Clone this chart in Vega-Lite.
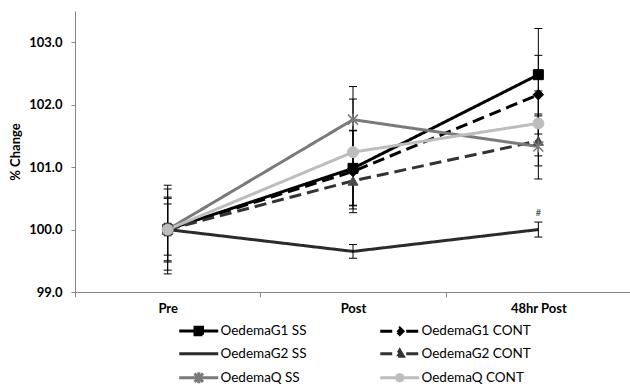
{
  "$schema": "https://vega.github.io/schema/vega-lite/v6.json",
  "autosize": "none",
  "width": 556,
  "height": 281,
  "padding": {"left": 75, "top": 11, "right": 0, "bottom": 94},
  "background": "white",
  "config": {
    "view": {"stroke": null},
    "font": "Lato",
    "axis": {"grid": false, "domainColor": "#878787", "tickColor": "#878787", "labelFont": "Lato", "labelFontWeight": "bold", "labelFontSize": 13, "labelColor": "#000000", "titleFont": "Lato", "titleFontWeight": "bold", "titleFontSize": 13, "titleColor": "#000000"}
  },
  "datasets": {
    "main": [
      {"series": "OedemaG1 SS", "time": "Pre", "y": 100.0, "lo": 99.29, "hi": 100.71},
      {"series": "OedemaG1 SS", "time": "Post", "y": 100.98, "lo": 100.38, "hi": 101.58},
      {"series": "OedemaG1 SS", "time": "48hr Post", "y": 102.48, "lo": 101.74, "hi": 103.22},
      {"series": "OedemaG1 CONT", "time": "Pre", "y": 100.0, "lo": 99.48, "hi": 100.52},
      {"series": "OedemaG1 CONT", "time": "Post", "y": 100.93, "lo": 100.27, "hi": 101.59},
      {"series": "OedemaG1 CONT", "time": "48hr Post", "y": 102.16, "lo": 101.53, "hi": 102.79},
      {"series": "OedemaG2 SS", "time": "Pre", "y": 100.0, "lo": 99.9, "hi": 100.1},
      {"series": "OedemaG2 SS", "time": "Post", "y": 99.65, "lo": 99.54, "hi": 99.76},
      {"series": "OedemaG2 SS", "time": "48hr Post", "y": 100.0, "lo": 99.88, "hi": 100.12},
      {"series": "OedemaG2 CONT", "time": "Pre", "y": 100.0, "lo": 99.59, "hi": 100.41},
      {"series": "OedemaG2 CONT", "time": "Post", "y": 100.78, "lo": 100.33, "hi": 101.23},
      {"series": "OedemaG2 CONT", "time": "48hr Post", "y": 101.42, "lo": 101.02, "hi": 101.82},
      {"series": "OedemaQ SS", "time": "Pre", "y": 100.0, "lo": 99.5, "hi": 100.5},
      {"series": "OedemaQ SS", "time": "Post", "y": 101.76, "lo": 101.23, "hi": 102.29},
      {"series": "OedemaQ SS", "time": "48hr Post", "y": 101.33, "lo": 100.81, "hi": 101.85},
      {"series": "OedemaQ CONT", "time": "Pre", "y": 100.0, "lo": 99.35, "hi": 100.65},
      {"series": "OedemaQ CONT", "time": "Post", "y": 101.24, "lo": 100.39, "hi": 102.09},
      {"series": "OedemaQ CONT", "time": "48hr Post", "y": 101.7, "lo": 101.18, "hi": 102.22}
    ],
    "note": [
      {"time": "48hr Post", "y": 100.27, "label": "#"}
    ]
  },
  "data": {"name": "main"},
  "encoding": {
    "x": {"field": "time", "type": "nominal", "scale": {"type": "band", "domain": ["Pre", "Post", "48hr Post"], "paddingInner": 0, "paddingOuter": 0},
      "axis": {"title": null, "labelAngle": 0, "tickBand": "extent", "tickSize": 5, "labelPadding": 5, "domainWidth": 1}}
  },
  "layer": [
    {
      "mark": {"type": "point", "opacity": 0, "strokeWidth": 3, "filled": true},
      "encoding": {
        "y": {"field": "y", "type": "quantitative", "scale": {"domain": [99, 103.5], "nice": false, "zero": false},
          "axis": {"title": "% Change", "values": [99, 100, 101, 102, 103], "format": ".1f", "tickSize": 4, "labelPadding": 9, "titlePadding": 6}},
        "fill": {"field": "series", "type": "nominal",
          "scale": {"domain": ["OedemaG1 SS", "OedemaG1 CONT", "OedemaG2 SS", "OedemaG2 CONT", "OedemaQ SS", "OedemaQ CONT"], "range": ["#000000", "#000000", "#2b2b2b", "#333333", "#7a7a7a", "#bdbdbd"]},
          "legend": {"title": null, "orient": "none", "legendX": 117, "legendY": 313, "columns": 2, "direction": "horizontal", "symbolSize": 100, "symbolStrokeWidth": 3, "symbolOpacity": 1, "labelFont": "Lato", "labelFontSize": 13.5, "labelColor": "#000000", "labelOffset": 15, "rowPadding": 3, "columnPadding": 67, "labelLimit": 300}},
        "stroke": {"field": "series", "type": "nominal",
          "scale": {"domain": ["OedemaG1 SS", "OedemaG1 CONT", "OedemaG2 SS", "OedemaG2 CONT", "OedemaQ SS", "OedemaQ CONT"], "range": ["#000000", "#000000", "#2b2b2b", "#333333", "#7a7a7a", "#bdbdbd"]},
          "legend": {"title": null, "orient": "none", "legendX": 117, "legendY": 313, "columns": 2, "direction": "horizontal", "symbolSize": 100, "symbolStrokeWidth": 3, "symbolOpacity": 1, "labelFont": "Lato", "labelFontSize": 13.5, "labelColor": "#000000", "labelOffset": 15, "rowPadding": 3, "columnPadding": 67, "labelLimit": 300}},
        "shape": {"field": "series", "type": "nominal",
          "scale": {"domain": ["OedemaG1 SS", "OedemaG1 CONT", "OedemaG2 SS", "OedemaG2 CONT", "OedemaQ SS", "OedemaQ CONT"],
            "range": ["M-3.9,0H3.9M-0.75,-0.75H0.75V0.75H-0.75Z", "M-3.9,0H-1.3M1.3,0H3.9M0,-0.65L0.65,0L0,0.65L-0.65,0Z", "M-3.9,0H3.9", "M-3.9,0H-1.3M1.3,0H3.9M0,-0.7L0.7,0.5H-0.7Z", "M-3.9,0H3.9M-0.85,-0.85L0.85,0.85M-0.85,0.85L0.85,-0.85M0,-1.1V1.1", "M-3.9,0H3.9M-0.65,0L-0.46,-0.46L0,-0.65L0.46,-0.46L0.65,0L0.46,0.46L0,0.65L-0.46,0.46Z"]},
          "legend": {"title": null, "orient": "none", "legendX": 117, "legendY": 313, "columns": 2, "direction": "horizontal", "symbolSize": 100, "symbolStrokeWidth": 3, "symbolOpacity": 1, "labelFont": "Lato", "labelFontSize": 13.5, "labelColor": "#000000", "labelOffset": 15, "rowPadding": 3, "columnPadding": 67, "labelLimit": 300}}
      }
    },
    {
      "mark": {"type": "line", "strokeWidth": 3},
      "encoding": {
        "y": {"field": "y", "type": "quantitative"},
        "stroke": {"field": "series", "type": "nominal", "legend": null},
        "strokeDash": {"field": "series", "type": "nominal", "legend": null,
          "scale": {"domain": ["OedemaG1 SS", "OedemaG1 CONT", "OedemaG2 SS", "OedemaG2 CONT", "OedemaQ SS", "OedemaQ CONT"], "range": [[1, 0], [12, 6], [1, 0], [12, 6], [1, 0], [1, 0]]}}
      }
    },
    {
      "mark": {"type": "rule", "color": "#000000", "strokeWidth": 1},
      "encoding": {"y": {"field": "lo", "type": "quantitative"}, "y2": {"field": "hi"}}
    },
    {
      "mark": {"type": "tick", "color": "#000000", "thickness": 1, "size": 8, "orient": "horizontal", "opacity": 1},
      "encoding": {"y": {"field": "lo", "type": "quantitative"}}
    },
    {
      "mark": {"type": "tick", "color": "#000000", "thickness": 1, "size": 8, "orient": "horizontal", "opacity": 1},
      "encoding": {"y": {"field": "hi", "type": "quantitative"}}
    },
    {
      "transform": [{"filter": "datum.series === 'OedemaG1 SS'"}],
      "mark": {"type": "point", "shape": "square", "size": 100, "filled": true, "fill": "#000000", "stroke": "#000000", "strokeWidth": 1, "opacity": 1},
      "encoding": {"y": {"field": "y", "type": "quantitative"}}
    },
    {
      "transform": [{"filter": "datum.series === 'OedemaG1 CONT'"}],
      "mark": {"type": "point", "shape": "diamond", "size": 110, "filled": true, "fill": "#000000", "stroke": "#000000", "strokeWidth": 1, "opacity": 1},
      "encoding": {"y": {"field": "y", "type": "quantitative"}}
    },
    {
      "transform": [{"filter": "datum.series === 'OedemaG2 CONT'"}],
      "mark": {"type": "point", "shape": "triangle-up", "size": 100, "filled": true, "fill": "#4a4a4a", "stroke": "#4a4a4a", "strokeWidth": 1, "opacity": 1},
      "encoding": {"y": {"field": "y", "type": "quantitative"}}
    },
    {
      "transform": [{"filter": "datum.series === 'OedemaQ SS'"}],
      "mark": {"type": "point", "shape": "M-1,-1L1,1M-1,1L1,-1M0,-1.2V1.2", "size": 100, "filled": false, "stroke": "#7a7a7a", "strokeWidth": 1.5, "opacity": 1},
      "encoding": {"y": {"field": "y", "type": "quantitative"}}
    },
    {
      "transform": [{"filter": "datum.series === 'OedemaQ CONT'"}],
      "mark": {"type": "point", "shape": "circle", "size": 121, "filled": true, "fill": "#bdbdbd", "stroke": "#bdbdbd", "strokeWidth": 1, "opacity": 1},
      "encoding": {"y": {"field": "y", "type": "quantitative"}}
    },
    {
      "data": {"name": "note"},
      "mark": {"type": "text", "fontSize": 9, "color": "#4d6b66", "fontWeight": "bold"},
      "encoding": {"y": {"field": "y", "type": "quantitative"}, "text": {"field": "label"}}
    }
  ]
}
